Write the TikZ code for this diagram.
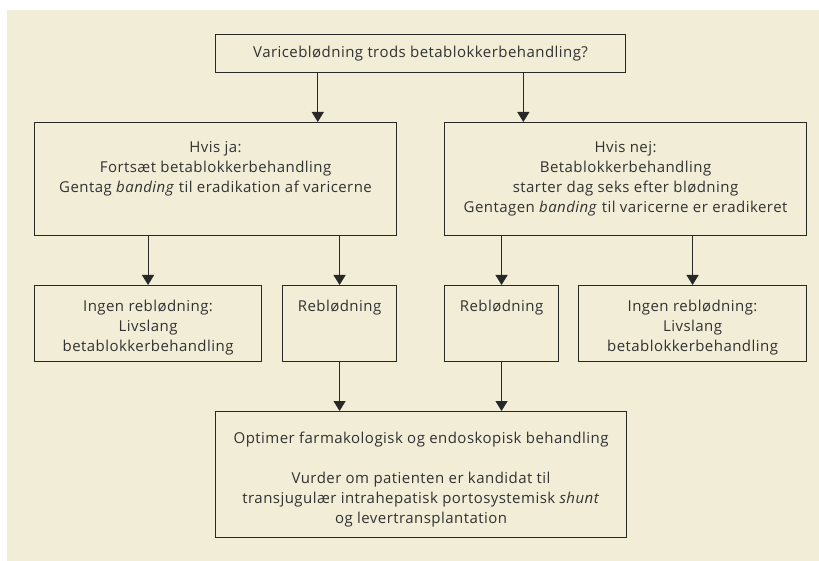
\documentclass[tikz,border=0pt]{standalone}
\usepackage{fontspec}
\setmainfont{Open Sans}[LetterSpace=3.0]
\usetikzlibrary{arrows.meta, positioning, calc}
\definecolor{papirbeige}{RGB}{242,237,214}
\definecolor{stregsort}{RGB}{40,40,40}
\definecolor{tekstgraa}{RGB}{50,50,50}
% width, height, top gap, text
\newcommand{\boksindhold}[4]{\parbox[c][#2][t]{#1}{\centering\vspace*{#3}\strut#4}}

\begin{document}
\begin{tikzpicture}[x=1pt, y=-1pt,
    kasse/.style={draw=stregsort, line width=1.1pt, inner sep=0pt, anchor=north west,
      text=tekstgraa, font=\fontsize{15}{20}\selectfont},
    pil/.style={draw=stregsort, line width=1.1pt, -{Triangle[width=12pt,length=10pt]}}]
  % page and background
  \useasboundingbox (0,0) rectangle (819,561);
  \fill[white] (0,0) rectangle (819,561);
  \fill[papirbeige] (7,10) rectangle (819,561);

  % question
  \node[kasse, minimum width=410pt, minimum height=38pt] (spm) at (215,34)
    {Varicebl\o dning trods betablokkerbehandling?};

  % yes / no
  \node[kasse] (ja) at (34,122)
    {\boksindhold{362pt}{113pt}{16pt}{Hvis ja:\\Forts\ae t betablokkerbehandling\\
      Gentag \emph{banding} til eradikation af varicerne}};
  \node[kasse] (nej) at (444,122)
    {\boksindhold{362pt}{113pt}{16pt}{Hvis nej:\\Betablokkerbehandling\\
      starter dag seks efter bl\o dning\\Gentagen \emph{banding} til varicerne er eradikeret}};

  % outcomes
  \node[kasse] (ingenV) at (34,285)
    {\boksindhold{227pt}{76pt}{12pt}{Ingen rebl\o dning:\\Livslang\\betablokkerbehandling}};
  \node[kasse] (rebV) at (282,285)
    {\boksindhold{114pt}{76pt}{12pt}{Rebl\o dning}};
  \node[kasse] (rebH) at (444,285)
    {\boksindhold{114pt}{76pt}{12pt}{Rebl\o dning}};
  \node[kasse] (ingenH) at (578,285)
    {\boksindhold{228pt}{76pt}{12pt}{Ingen rebl\o dning:\\Livslang\\betablokkerbehandling}};

  % final step
  \node[kasse] (bund) at (215,411)
    {\boksindhold{411pt}{126pt}{18pt}{Optimer farmakologisk og endoskopisk behandling\\[20pt]
      Vurder om patienten er kandidat til\\
      transjugul\ae r intrahepatisk portosystemisk \emph{shunt}\\og levertransplantation}};

  % connectors
  \coordinate (spmV) at ($(spm.south west)!0.25!(spm.south east)$);
  \coordinate (spmH) at ($(spm.south west)!0.75!(spm.south east)$);
  \draw[pil] (spmV) -- (spmV |- ja.north);
  \draw[pil] (spmH) -- (spmH |- nej.north);
  \draw[pil] (ingenV.north |- ja.south) -- (ingenV.north);
  \draw[pil] (rebV.north |- ja.south) -- (rebV.north);
  \draw[pil] (rebH.north |- nej.south) -- (rebH.north);
  \draw[pil] (ingenH.north |- nej.south) -- (ingenH.north);
  \draw[pil] (rebV.south) -- (rebV.south |- bund.north);
  \draw[pil] (rebH.south) -- (rebH.south |- bund.north);
\end{tikzpicture}
\end{document}
